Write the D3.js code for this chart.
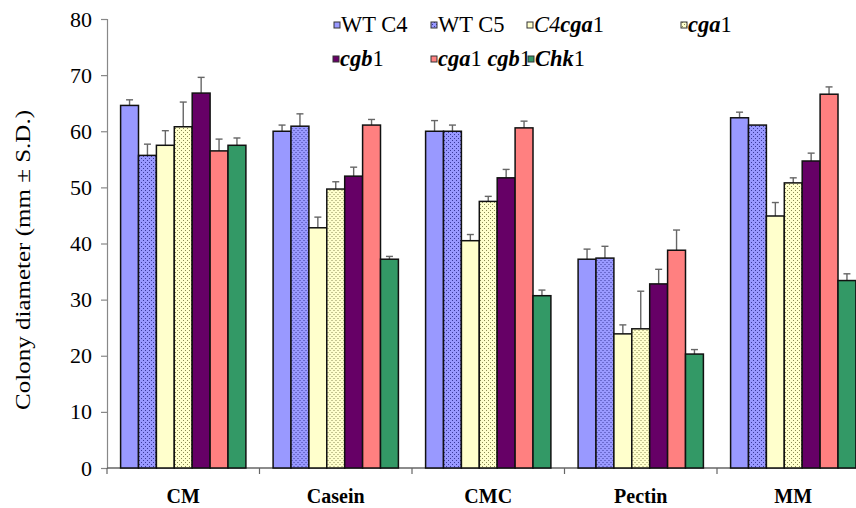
<!DOCTYPE html>
<html>
<head>
<meta charset="utf-8">
<script src="https://cdn.jsdelivr.net/npm/d3@7"></script>
<style>
  html, body { margin: 0; padding: 0; background: #fff; }
  svg { display: block; font-family: "Liberation Serif", "Times New Roman", Times, serif; }
</style>
</head>
<body>
<svg id="chart" width="856" height="508"></svg>
<script>
// ---- data ----
const categories = ["CM", "Casein", "CMC", "Pectin", "MM"];
const seriesNames = ["WT C4", "WT C5", "C4cga1", "cga1", "cgb1", "cga1 cgb1", "Chk1"];
const wtC4     = [64.6, 60.0, 60.0, 37.2, 62.4];
const wtC5     = [55.7, 60.9, 60.0, 37.4, 61.1];
const c4cga1   = [57.5, 42.8, 40.5, 23.9, 44.9];
const cga1     = [60.8, 49.7, 47.5, 24.8, 50.8];
const cgb1     = [66.8, 52.0, 51.7, 32.8, 54.7];
const cga1cgb1 = [56.5, 61.1, 60.6, 38.8, 66.6];
const chk1     = [57.5, 37.2, 30.7, 20.3, 33.4];
const errWtC4     = [1.0, 1.1, 1.9, 1.8, 1.0];
const errWtC5     = [2.0, 2.2, 1.1, 2.1, 0.0];
const errC4cga1   = [2.6, 1.9, 1.1, 1.6, 2.4];
const errCga1     = [4.4, 1.3, 0.9, 6.7, 0.9];
const errCgb1     = [2.8, 1.6, 1.5, 2.6, 1.4];
const errCga1cgb1 = [2.1, 1.0, 1.2, 3.6, 1.3];
const errChk1     = [1.3, 0.5, 1.0, 0.8, 1.2];
const yTicks = [0, 10, 20, 30, 40, 50, 60, 70, 80];
const yTitle = "Colony diameter (mm \u00B1 S.D.)";

const values = [wtC4, wtC5, c4cga1, cga1, cgb1, cga1cgb1, chk1];
const errors = [errWtC4, errWtC5, errC4cga1, errCga1, errCgb1, errCga1cgb1, errChk1];

// legend label parts: [text, style] ; style: r=regular, i=italic, bi=bold italic
const legendParts = [
  [["WT C4", "r"]],
  [["WT C5", "r"]],
  [["C4", "i"], ["cga", "bi"], ["1", "r"]],
  [["cga", "bi"], ["1", "r"]],
  [["cgb", "bi"], ["1", "r"]],
  [["cga", "bi"], ["1 ", "r"], ["cgb", "bi"], ["1", "r"]],
  [["Chk", "bi"], ["1", "r"]]
];

// ---- styles ----
const fills = ["#9999FF", "url(#dotBlue)", "#FFFFCC", "url(#dotYellow)", "#660066", "#FF8080", "#339966"];
const FONT = "Liberation Serif, Times New Roman, Times, serif";

const svg = d3.select("#chart");
const defs = svg.append("defs");

function dotPattern(id, bg, dot) {
  const p = defs.append("pattern").attr("id", id)
    .attr("patternUnits", "userSpaceOnUse").attr("width", 4).attr("height", 4);
  p.append("rect").attr("width", 4).attr("height", 4).attr("fill", bg);
  p.append("rect").attr("x", 0).attr("y", 0).attr("width", 1).attr("height", 1).attr("fill", dot);
  p.append("rect").attr("x", 2).attr("y", 2).attr("width", 1).attr("height", 1).attr("fill", dot);
}
dotPattern("dotBlue", "#9999FF", "#3a3a9a");
dotPattern("dotYellow", "#FFFFCC", "#8a8a55");

const mLeft = 107, mTop = 19, mBottom = 468, mRight = 869.5;

const y = d3.scaleLinear().domain([0, 80]).range([mBottom, mTop]);
const x0 = d3.scaleBand().domain(categories).range([mLeft, mRight]).paddingInner(0).paddingOuter(0);
const bw = x0.bandwidth();
const x1 = d3.scaleBand().domain(seriesNames).range([13.6, bw - 13.6]).paddingInner(0).paddingOuter(0);

// y axis
const yAxis = d3.axisLeft(y).tickValues(yTicks).tickSize(6).tickPadding(9).tickFormat(d3.format("d"));
const gy = svg.append("g").attr("transform", `translate(${mLeft},0)`).call(yAxis);
gy.select(".domain").attr("stroke", "#888").attr("stroke-width", 1.2);
gy.selectAll(".tick line").attr("stroke", "#888").attr("stroke-width", 1.2);
gy.selectAll(".tick text").attr("font-size", 22).attr("fill", "#000").attr("font-family", FONT);

// x axis (ticks at band boundaries)
const gx = svg.append("g");
gx.append("line").attr("x1", mLeft).attr("x2", mRight).attr("y1", mBottom).attr("y2", mBottom)
  .attr("stroke", "#666").attr("stroke-width", 1.3);
const boundaries = categories.map(c => x0(c)).concat([x0(categories[categories.length - 1]) + bw]);
gx.selectAll("line.bt").data(boundaries).enter().append("line").attr("class", "bt")
  .attr("x1", d => d).attr("x2", d => d).attr("y1", mBottom).attr("y2", mBottom + 6)
  .attr("stroke", "#666").attr("stroke-width", 1.2);
gx.selectAll("text").data(categories).enter().append("text")
  .attr("x", d => x0(d) + bw / 2).attr("y", 503)
  .attr("text-anchor", "middle").attr("font-size", 20).attr("fill", "#000")
  .attr("font-family", FONT).attr("font-weight", "bold")
  .text(d => d);

// y title
svg.append("text")
  .attr("transform", `translate(30,${(110 + 410) / 2}) rotate(-90)`)
  .attr("text-anchor", "middle").attr("font-size", 21).attr("fill", "#000")
  .attr("font-family", FONT)
  .attr("textLength", 300).attr("lengthAdjust", "spacingAndGlyphs")
  .text(yTitle);

// bars
const groups = svg.append("g").selectAll("g").data(categories).enter().append("g")
  .attr("transform", d => `translate(${x0(d)},0)`);

groups.each(function (cat, ci) {
  const g = d3.select(this);
  seriesNames.forEach((s, si) => {
    const v = values[si][ci];
    const e = errors[si][ci];
    const bx = x1(s);
    const w = x1.bandwidth();
    if (e > 0) {
      g.append("line").attr("x1", bx + w / 2).attr("x2", bx + w / 2)
        .attr("y1", y(v)).attr("y2", y(v + e)).attr("stroke", "#666").attr("stroke-width", 1.4);
      g.append("line").attr("x1", bx + w / 2 - 3.5).attr("x2", bx + w / 2 + 3.5)
        .attr("y1", y(v + e)).attr("y2", y(v + e)).attr("stroke", "#666").attr("stroke-width", 1.4);
    }
    g.append("rect").attr("x", bx).attr("y", y(v)).attr("width", w).attr("height", y(0) - y(v))
      .attr("fill", fills[si]).attr("stroke", "#111").attr("stroke-width", 1.5);
  });
});

// legend
const lg = svg.append("g");
const row1X = [334, 431, 527, 681], row2X = [333, 431, 528];
seriesNames.forEach((s, i) => {
  let px, py;
  if (i < 4) { px = row1X[i]; py = 25; }
  else { px = row2X[i - 4]; py = 59; }
  lg.append("rect").attr("x", px).attr("y", py - 3).attr("width", 6).attr("height", 6)
    .attr("fill", fills[i]).attr("stroke", "#333").attr("stroke-width", 1);
  const t = lg.append("text").attr("x", px + 7).attr("y", py + 7).attr("font-size", 22.5)
    .attr("fill", "#000").attr("font-family", FONT);
  legendParts[i].forEach(([txt, st]) => {
    t.append("tspan").text(txt)
      .attr("font-style", st === "r" ? "normal" : "italic")
      .attr("font-weight", st === "bi" ? "bold" : "normal")
      .attr("xml:space", "preserve");
  });
});
</script>
</body>
</html>
